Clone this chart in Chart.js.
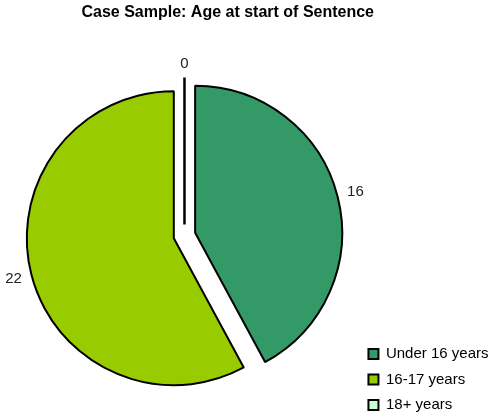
<!DOCTYPE html>
<html>
<head>
<meta charset="utf-8">
<script src="https://cdn.jsdelivr.net/npm/chart.js@4/dist/chart.umd.min.js"></script>
<style>
  html, body { margin: 0; padding: 0; background: #fff; }
  #wrap { width: 491px; height: 420px; }
</style>
</head>
<body>
<div id="wrap"><canvas id="pieChart" width="491" height="420"></canvas></div>
<script>
// Dados do gráfico
const categorias = ["Under 16 years", "16-17 years", "18+ years"];
const valores = [16, 22, 0];
const cores = ["#339966", "#99cc00", "#ccffcc"];

const FONTE = "'Liberation Sans', Arial, sans-serif";
const EXPLODE = 11;
const DESLOCA_TITULO = 27; // o título do original não fica centrado na figura

// Desloca cada fatia para fora (efeito "explodido" do Excel) e escreve os valores
const explodePlugin = {
	id: "explode",
	afterLayout(chart) {
		const t = chart.titleBlock;
		if (t) {
			t.left -= DESLOCA_TITULO;
			t.right -= DESLOCA_TITULO;
		}
	},
	beforeDatasetsDraw(chart) {
		const meta = chart.getDatasetMeta(0);
		const area = chart.chartArea;
		const cx = (area.left + area.right) / 2 + (meta.controller.offsetX || 0);
		const cy = (area.top + area.bottom) / 2 + (meta.controller.offsetY || 0);
		meta.data.forEach((arc) => {
			const mid = (arc.startAngle + arc.endAngle) / 2;
			arc.x = cx + Math.cos(mid) * EXPLODE;
			arc.y = cy + Math.sin(mid) * EXPLODE;
		});
	},
	afterDatasetsDraw(chart) {
		const ctx = chart.ctx;
		const meta = chart.getDatasetMeta(0);
		ctx.save();
		ctx.font = "15px " + FONTE;
		ctx.fillStyle = "#222";
		ctx.textAlign = "center";
		ctx.textBaseline = "middle";
		meta.data.forEach((arc, i) => {
			const mid = (arc.startAngle + arc.endAngle) / 2;
			// fatia com valor zero: o Excel desenha só a borda
			if (arc.endAngle - arc.startAngle === 0) {
				ctx.beginPath();
				ctx.strokeStyle = "#000";
				ctx.lineWidth = 2.5;
				ctx.moveTo(arc.x, arc.y);
				ctx.lineTo(arc.x + Math.cos(mid) * arc.outerRadius, arc.y + Math.sin(mid) * arc.outerRadius);
				ctx.stroke();
			}
			const txt = String(valores[i]);
			const w = ctx.measureText(txt).width;
			const ext = Math.abs(Math.cos(mid)) * w / 2 + Math.abs(Math.sin(mid)) * 5;
			const d = arc.outerRadius + 9 + ext;
			ctx.fillText(txt, arc.x + Math.cos(mid) * d, arc.y + Math.sin(mid) * d);
		});
		ctx.restore();
	},
};

const ctx = document.getElementById("pieChart").getContext("2d");
const grafico = new Chart(ctx, {
	type: "pie",
	data: {
		labels: categorias,
		datasets: [
			{
				data: valores,
				backgroundColor: cores,
				borderColor: "#000",
				borderWidth: 2,
				clip: false,
			},
		],
	},
	options: {
		responsive: false,
		animation: false,
		radius: 147,
		layout: { padding: { left: 11, right: -7.5, top: 0, bottom: -3 } },
		plugins: {
			title: {
				display: true,
				text: "Case Sample: Age at start of Sentence",
				color: "#000",
				font: { family: FONTE, size: 16, weight: "bold" },
				padding: { top: 3, bottom: 28.8 },
			},
			legend: {
				display: true,
				position: "right",
				align: "end",
				labels: {
					color: "#000",
					font: { family: FONTE, size: 15 },
					boxWidth: 10,
					boxHeight: 10,
					padding: 10.5,
				},
			},
			tooltip: { enabled: false },
		},
	},
	plugins: [explodePlugin],
});
</script>
</body>
</html>
